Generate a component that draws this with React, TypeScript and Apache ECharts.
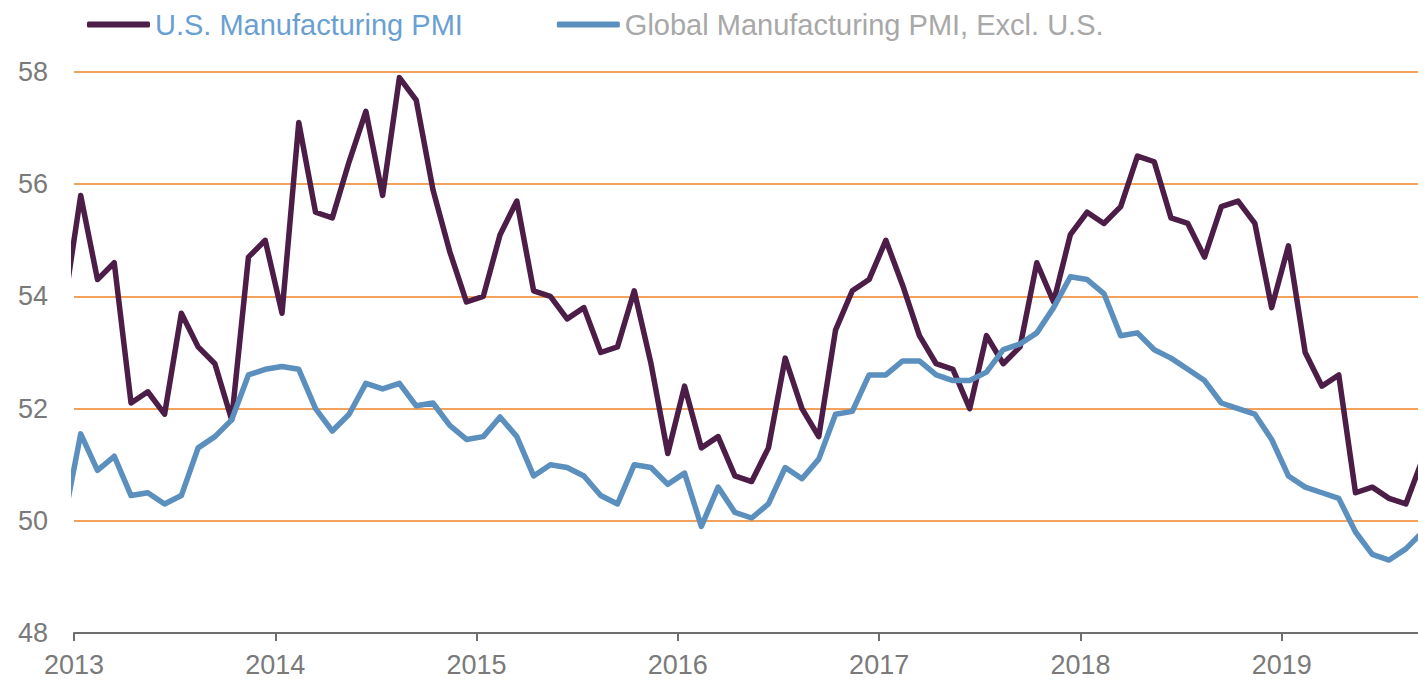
import React, { useEffect, useRef } from "react";
import * as echarts from "echarts";

// Monthly readings, Dec 2012 (clipped at the left edge) through Sep 2019
const startYear = 2012;
const startMonth = 11; // December (0-based)

const usPMI = [
  53.8,
  // 2013
  55.8, 54.3, 54.6, 52.1, 52.3, 51.9, 53.7, 53.1, 52.8, 51.8, 54.7, 55.0,
  // 2014
  53.7, 57.1, 55.5, 55.4, 56.4, 57.3, 55.8, 57.9, 57.5, 55.9, 54.8, 53.9,
  // 2015
  54.0, 55.1, 55.7, 54.1, 54.0, 53.6, 53.8, 53.0, 53.1, 54.1, 52.8, 51.2,
  // 2016
  52.4, 51.3, 51.5, 50.8, 50.7, 51.3, 52.9, 52.0, 51.5, 53.4, 54.1, 54.3,
  // 2017
  55.0, 54.2, 53.3, 52.8, 52.7, 52.0, 53.3, 52.8, 53.1, 54.6, 53.9, 55.1,
  // 2018
  55.5, 55.3, 55.6, 56.5, 56.4, 55.4, 55.3, 54.7, 55.6, 55.7, 55.3, 53.8,
  // 2019
  54.9, 53.0, 52.4, 52.6, 50.5, 50.6, 50.4, 50.3, 51.1,
];

const globalExUS = [
  50.0,
  // 2013
  51.55, 50.9, 51.15, 50.45, 50.5, 50.3, 50.45, 51.3, 51.5, 51.8, 52.6, 52.7,
  // 2014
  52.75, 52.7, 52.0, 51.6, 51.9, 52.45, 52.35, 52.45, 52.05, 52.1, 51.7, 51.45,
  // 2015
  51.5, 51.85, 51.5, 50.8, 51.0, 50.95, 50.8, 50.45, 50.3, 51.0, 50.95, 50.65,
  // 2016
  50.85, 49.9, 50.6, 50.15, 50.05, 50.3, 50.95, 50.75, 51.1, 51.9, 51.95, 52.6,
  // 2017
  52.6, 52.85, 52.85, 52.6, 52.5, 52.5, 52.65, 53.05, 53.15, 53.35, 53.8, 54.35,
  // 2018
  54.3, 54.05, 53.3, 53.35, 53.05, 52.9, 52.7, 52.5, 52.1, 52.0, 51.9, 51.45,
  // 2019
  50.8, 50.6, 50.5, 50.4, 49.8, 49.4, 49.3, 49.5, 49.8,
];

const yearTicks = ["2013", "2014", "2015", "2016", "2017", "2018", "2019"];
const seriesNames = ["U.S. Manufacturing PMI", "Global Manufacturing PMI, Excl. U.S."];

function monthPosition(i: number): number {
  const mi = startMonth + i;
  const y = startYear + Math.floor(mi / 12);
  const m = mi % 12;
  return y + (m + 0.4) / 12;
}

export default function App() {
  const ref = useRef<HTMLDivElement>(null);

  useEffect(() => {
    if (!ref.current) return;
    const chart = echarts.init(ref.current, undefined, { renderer: "svg" });
    const font = "'Liberation Sans', Arial, sans-serif";
    const usData = usPMI.map((v, i) => [monthPosition(i), v]);
    const glData = globalExUS.map((v, i) => [monthPosition(i), v]);
    const firstYear = Number(yearTicks[0]);
    const lastYear = Number(yearTicks[yearTicks.length - 1]);

    chart.setOption({
      animation: false,
      backgroundColor: "#ffffff",
      legend: {
        left: 82,
        top: 5,
        icon: "roundRect",
        itemWidth: 63,
        itemHeight: 6,
        itemGap: 94,
        textStyle: { fontFamily: font, fontSize: 29 },
        data: [
          { name: seriesNames[0], textStyle: { color: "#6A9FD2" } },
          { name: seriesNames[1], textStyle: { color: "#A8A8A8" } },
        ],
      },
      grid: { left: 74, right: 0, top: 72, bottom: 49, containLabel: false },
      xAxis: {
        type: "value",
        min: firstYear,
        max: lastYear + 1,
        interval: 1,
        splitLine: { show: false },
        axisLine: { show: true, lineStyle: { color: "#6E6E6E", width: 2 } },
        axisTick: { show: true, length: 8, lineStyle: { color: "#6E6E6E", width: 2 } },
        axisLabel: {
          color: "#7A7A7A",
          fontFamily: font,
          fontSize: 27,
          margin: 18,
          showMaxLabel: false,
          formatter: (v: number) => (yearTicks.includes(String(v)) ? String(v) : ""),
        },
      },
      yAxis: {
        type: "value",
        min: 48,
        max: 58,
        interval: 2,
        axisLine: { show: false },
        axisTick: { show: false },
        splitLine: { show: true, lineStyle: { color: "#F2A25C", width: 2 } },
        axisLabel: {
          color: "#7A7A7A",
          fontFamily: font,
          fontSize: 27,
          margin: 26,
        },
      },
      series: [
        {
          name: seriesNames[0],
          type: "line",
          data: usData,
          showSymbol: false,
          clip: true,
          color: "#4B1D47",
          lineStyle: { width: 5.5, color: "#4B1D47", join: "round" },
          z: 2,
        },
        {
          name: seriesNames[1],
          type: "line",
          data: glData,
          showSymbol: false,
          clip: true,
          color: "#5B8FBE",
          lineStyle: { width: 5.5, color: "#5B8FBE", join: "round" },
          z: 3,
        },
      ],
    });
    return () => chart.dispose();
  }, []);

  return (
    <div
      style={{
        position: "fixed",
        left: 0,
        top: 0,
        width: 1418,
        height: 682,
        overflow: "hidden",
        background: "#ffffff",
      }}
    >
      <div ref={ref} style={{ width: 1483, height: 682 }} />
    </div>
  );
}
